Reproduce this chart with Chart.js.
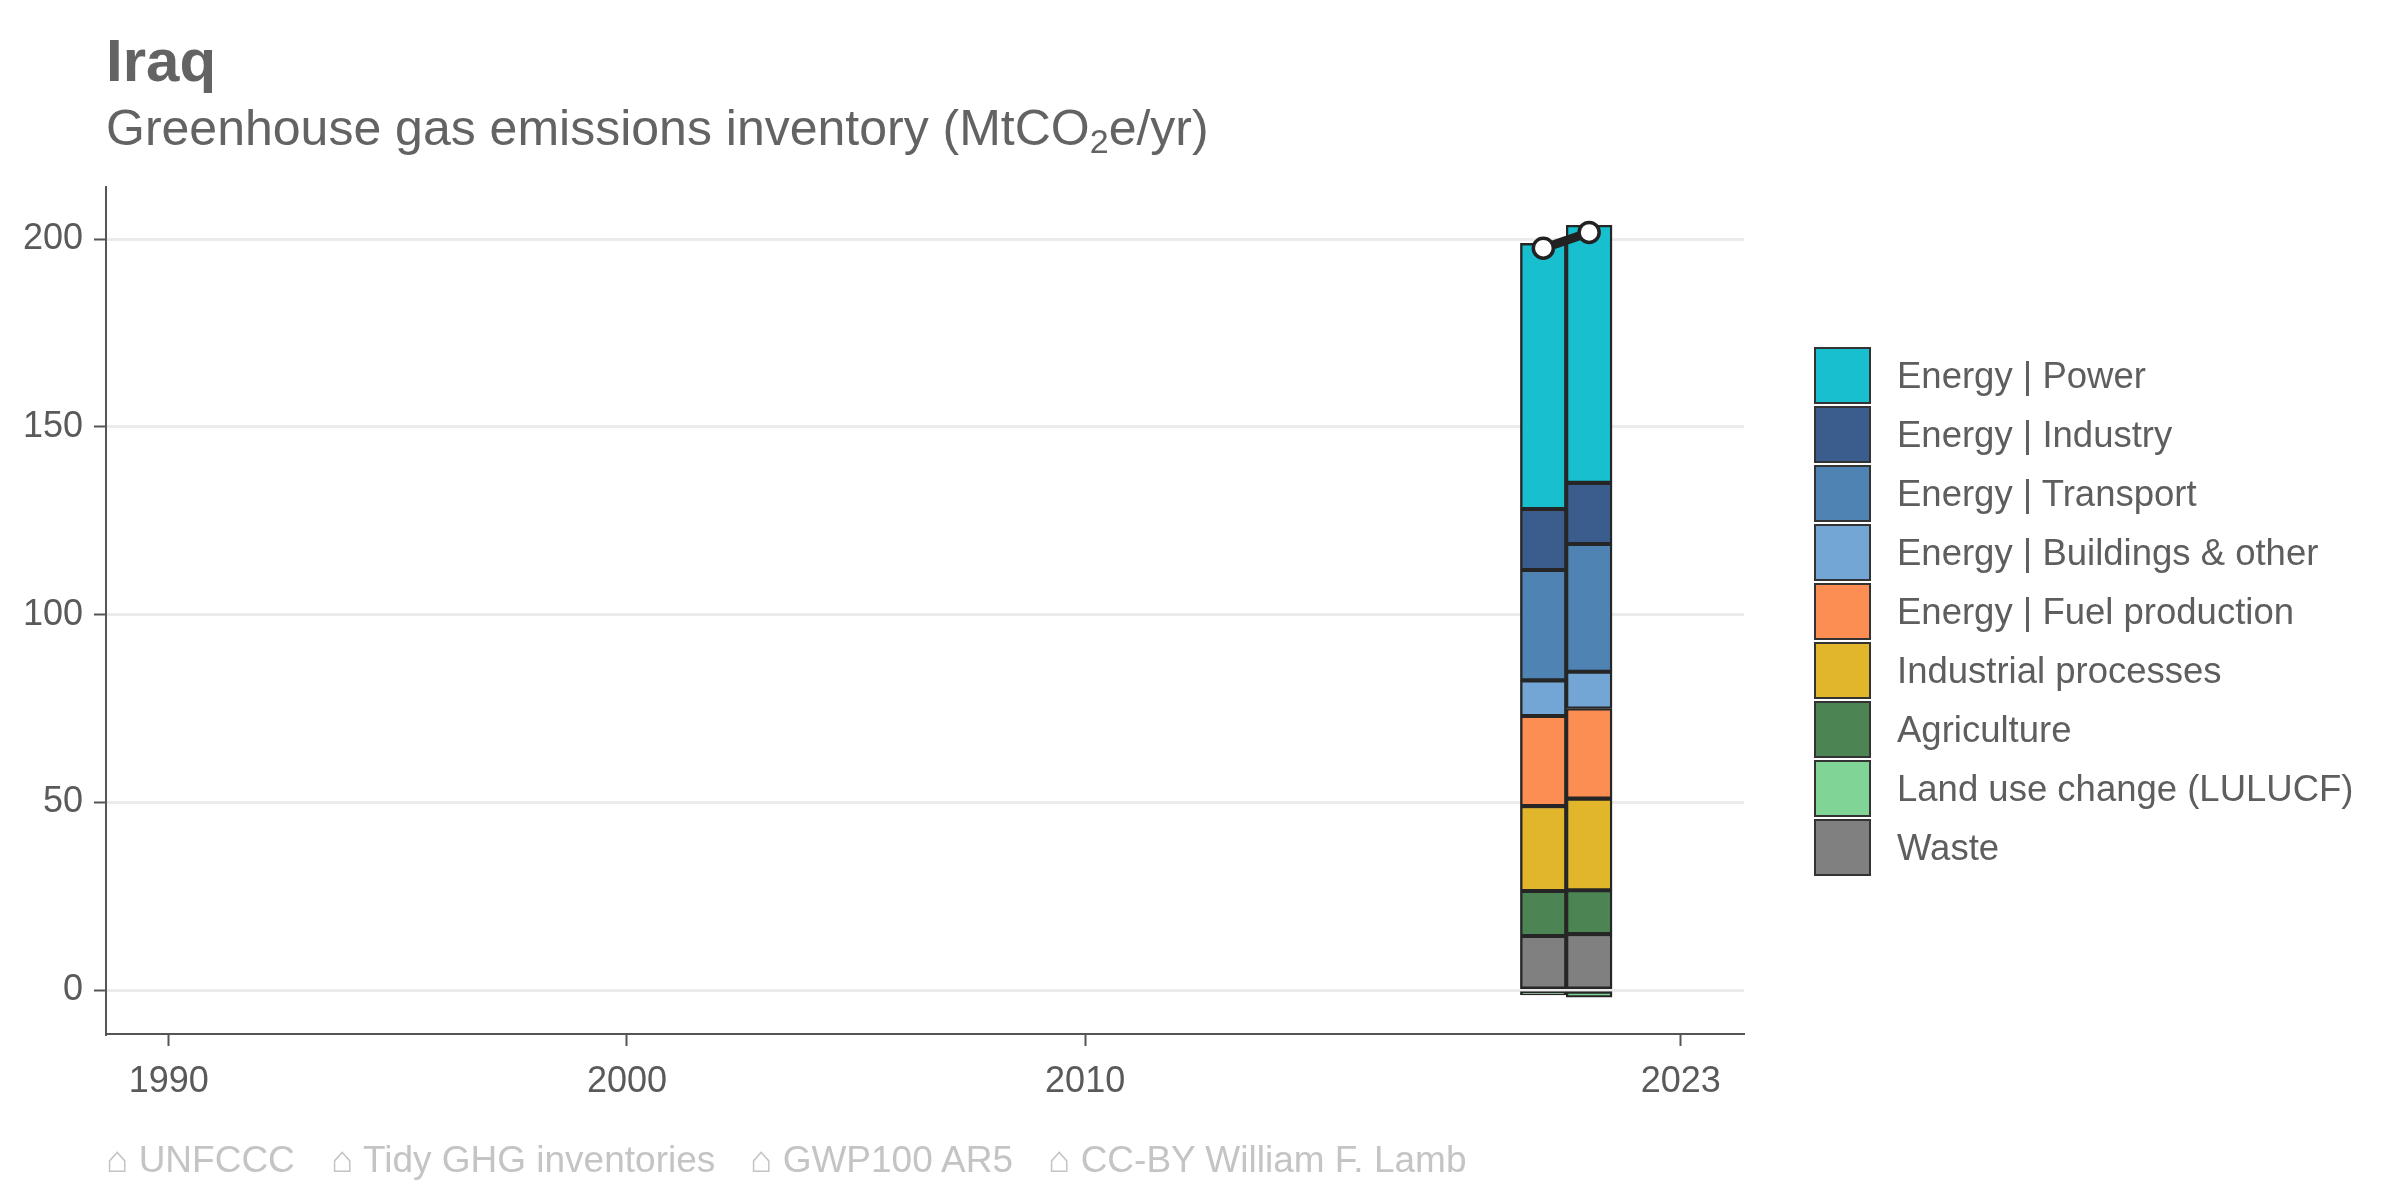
<!DOCTYPE html>
<html>
<head>
<meta charset="utf-8">
<script src="https://cdn.jsdelivr.net/npm/chart.js@4.4.1/dist/chart.umd.min.js"></script>
<style>
  body { margin: 0; background: #fff; font-family: "Liberation Sans", Arial, sans-serif; }
  #wrap { position: relative; width: 2400px; height: 1200px; }
  #chart { position: absolute; left: 0; top: 0; }
  .txt { position: absolute; white-space: nowrap; color: #636363; }
  #title { left: 106px; top: 26px; font-size: 60px; font-weight: bold; }
  #subtitle { left: 106px; top: 99px; font-size: 50px; }
  #subtitle sub { font-size: 34px; vertical-align: -8px; line-height: 0; }
  .foot { top: 1139px; font-size: 37px; color: #c4c4c4; }
  #legend { position: absolute; left: 1814px; top: 346px; }
  .row { display: flex; align-items: center; height: 59px; }
  .box { width: 57px; height: 57px; box-sizing: border-box; border: 2px solid #333; }
  .lab { margin-left: 26px; font-size: 36.5px; color: #5e5e5e; }
</style>
</head>
<body>
<div id="wrap">
  <canvas id="chart" width="2400" height="1200"></canvas>
  <div class="txt" id="title">Iraq</div>
  <div class="txt" id="subtitle">Greenhouse gas emissions inventory (MtCO<sub>2</sub>e/yr)</div>
  <div id="legend"></div>
  <div class="txt foot" style="left:106px">⌂ UNFCCC</div>
  <div class="txt foot" style="left:331px">⌂ Tidy GHG inventories</div>
  <div class="txt foot" style="left:750px">⌂ GWP100 AR5</div>
  <div class="txt foot" style="left:1048px">⌂ CC-BY William F. Lamb</div>
</div>
<script>
// 데이터
const years = [2020, 2021];
const power = [70.8, 68.6];
const industry = [16.2, 16.3];
const transport = [29.4, 34.0];
const buildings = [9.5, 9.8];
const fuelProduction = [24.0, 24.0];
const industrialProcesses = [22.6, 24.4];
const agriculture = [12.0, 11.7];
const lulucf = [-1.3, -1.9];
const waste = [14.4, 14.9];
const totals = [197.6, 201.8];

const xTicks = [1990, 2000, 2010, 2023];
const yTicks = [0, 50, 100, 150, 200];

// 아래에서 위로 쌓이는 순서
const sectors = [
  { name: 'Waste', values: waste, color: '#808080' },
  { name: 'Land use change (LULUCF)', values: lulucf, color: '#7fd496' },
  { name: 'Agriculture', values: agriculture, color: '#4c8453' },
  { name: 'Industrial processes', values: industrialProcesses, color: '#e2b62a' },
  { name: 'Energy | Fuel production', values: fuelProduction, color: '#fd8e53' },
  { name: 'Energy | Buildings & other', values: buildings, color: '#73a6d4' },
  { name: 'Energy | Transport', values: transport, color: '#4e83b4' },
  { name: 'Energy | Industry', values: industry, color: '#3a5d8e' },
  { name: 'Energy | Power', values: power, color: '#17bfcf' }
];

const datasets = sectors.map(s => ({
  type: 'bar',
  label: s.name,
  data: years.map((y, i) => ({ x: y, y: s.values[i] })),
  backgroundColor: s.color,
  borderColor: '#262626',
  borderWidth: 2.4,
  borderSkipped: false,
  barPercentage: 1,
  categoryPercentage: 1,
  order: 1
}));

datasets.push({
  type: 'line',
  label: 'Total',
  data: years.map((y, i) => ({ x: y, y: totals[i] })),
  borderColor: '#222',
  borderWidth: 9,
  pointRadius: 10,
  pointBackgroundColor: '#fff',
  pointBorderColor: '#222',
  pointBorderWidth: 3.5,
  order: 0
});

const tickFont = { family: '"Liberation Sans", Arial, sans-serif', size: 36 };

const ctx = document.getElementById('chart').getContext('2d');
const chart = new Chart(ctx, {
  data: { datasets },
  options: {
    responsive: false,
    animation: false,
    devicePixelRatio: 1,
    layout: { padding: { top: 187, left: 0, right: 656, bottom: 86 } },
    plugins: { legend: { display: false }, tooltip: { enabled: false } },
    scales: {
      x: {
        type: 'linear',
        stacked: true,
        offset: false,
        min: 1988.63,
        max: 2024.38,
        afterBuildTicks: axis => { axis.ticks = xTicks.map(v => ({ value: v })); },
        afterFit: axis => { axis.height = 80; },
        ticks: { color: '#5a5a5a', font: tickFont, padding: 14, callback: v => String(v) },
        grid: { offset: false, drawOnChartArea: false, drawTicks: true, tickLength: 12, tickColor: '#555', tickWidth: 2 },
        border: { display: true, color: '#555', width: 2 }
      },
      y: {
        stacked: true,
        min: -11.7,
        max: 213.9,
        afterBuildTicks: axis => { axis.ticks = yTicks.map(v => ({ value: v })); },
        afterFit: axis => { axis.width = 106; },
        ticks: { color: '#5a5a5a', font: tickFont, padding: 11 },
        grid: { color: '#ebebeb', lineWidth: 3, tickLength: 12, tickColor: '#555', tickWidth: 2 },
        border: { display: true, color: '#555', width: 2 }
      }
    }
  }
});

// 범례 (위에서 아래로)
const legend = document.getElementById('legend');
[...sectors].reverse().forEach(s => {
  const row = document.createElement('div');
  row.className = 'row';
  row.innerHTML = `<div class="box" style="background:${s.color}"></div><div class="lab"></div>`;
  row.querySelector('.lab').innerText = s.name;
  legend.appendChild(row);
});
</script>
</body>
</html>
